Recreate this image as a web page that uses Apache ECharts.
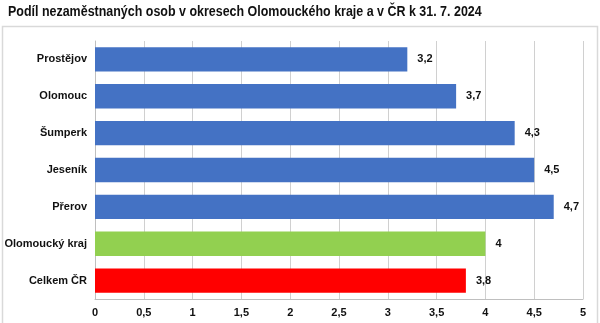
<!DOCTYPE html>
<html>
<head>
<meta charset="utf-8">
<script src="https://cdn.jsdelivr.net/npm/echarts@6/dist/echarts.min.js"></script>
<style>
  html, body { margin: 0; padding: 0; background: #fff; }
  #chart { width: 600px; height: 323px; }
</style>
</head>
<body>
<div id="chart"></div>
<script>
// Unemployment share by district (top to bottom as drawn)
const titleText = 'Podíl nezaměstnaných osob v okresech Olomouckého kraje a v ČR k 31. 7. 2024';
const categories = ['Prostějov', 'Olomouc', 'Šumperk', 'Jeseník', 'Přerov', 'Olomoucký kraj', 'Celkem ČR'];
const values = [3.2, 3.7, 4.3, 4.5, 4.7, 4.0, 3.8];
const barColors = ['#4472C4', '#4472C4', '#4472C4', '#4472C4', '#4472C4', '#92D050', '#FF0000'];
const axisMin = 0;
const axisMax = 5;
const axisStep = 0.5;

const fmt = v => String(v).replace('.', ',');

const chart = echarts.init(document.getElementById('chart'), null, { renderer: 'canvas' });

chart.setOption({
  animation: false,
  backgroundColor: '#fff',
  graphic: [
    {
      // slightly condensed bold heading
      type: 'text',
      silent: true,
      x: 8,
      y: 12,
      scaleX: 0.89,
      style: {
        text: titleText,
        font: 'bold 14px "Liberation Sans", Arial, sans-serif',
        fill: '#111',
        textAlign: 'left',
        textVerticalAlign: 'middle'
      }
    },
    {
      type: 'rect',
      silent: true,
      shape: { x: 2.5, y: 26.5, width: 595, height: 310 },
      style: { fill: 'none', stroke: '#d9d9d9', lineWidth: 1.5 }
    }
  ],
  grid: { left: 95, right: 17, top: 41, bottom: 24, containLabel: false },
  xAxis: {
    type: 'value',
    min: axisMin,
    max: axisMax,
    interval: axisStep,
    axisLine: { show: true, onZero: false, lineStyle: { color: '#bfbfbf' } },
    axisTick: { show: false },
    splitLine: { show: true, lineStyle: { color: '#d0d0d0', width: 1 } },
    axisLabel: {
      margin: 8,
      fontFamily: 'Liberation Sans, Arial',
      fontSize: 11,
      fontWeight: 'bold',
      color: '#111',
      formatter: v => fmt(v)
    }
  },
  yAxis: {
    type: 'category',
    inverse: true,
    data: categories,
    axisLine: { show: true, lineStyle: { color: '#bfbfbf' } },
    axisTick: { show: false },
    axisLabel: {
      margin: 8,
      fontFamily: 'Liberation Sans, Arial',
      fontSize: 11,
      fontWeight: 'bold',
      color: '#111'
    }
  },
  series: [{
    type: 'bar',
    barWidth: '66%',
    data: values.map((v, i) => ({ value: v, itemStyle: { color: barColors[i] } })),
    label: {
      show: true,
      position: 'right',
      distance: 10,
      fontFamily: 'Liberation Sans, Arial',
      fontSize: 11,
      fontWeight: 'bold',
      color: '#111',
      formatter: p => fmt(p.value)
    }
  }]
});
</script>
</body>
</html>
